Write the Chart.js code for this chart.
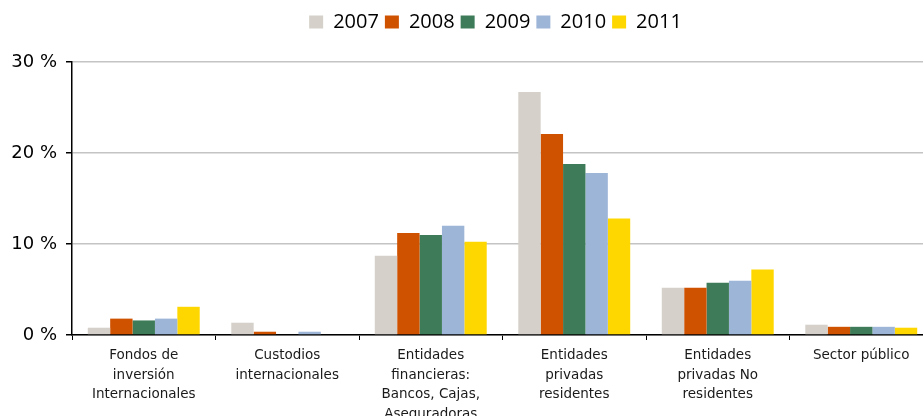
<!DOCTYPE html>
<html>
<head>
<meta charset="utf-8">
<script src="https://cdn.jsdelivr.net/npm/chart.js@4/dist/chart.umd.min.js"></script>
<style>
  html, body { margin: 0; padding: 0; background: #fff; overflow: hidden; }
  #wrap { width: 935px; height: 416px; }
</style>
</head>
<body>
<div id="wrap"><canvas id="c" width="935" height="416"></canvas></div>
<script>
const categories = [
  ["Fondos de", "inversión", "Internacionales"],
  ["Custodios", "internacionales"],
  ["Entidades", "financieras:", "Bancos, Cajas,", "Aseguradoras"],
  ["Entidades", "privadas", "residentes"],
  ["Entidades", "privadas No", "residentes"],
  ["Sector público"]
];
const years = ["2007", "2008", "2009", "2010", "2011"];
const values2007 = [0.8, 1.35, 8.7, 26.7, 5.2, 1.13];
const values2008 = [1.8, 0.36, 11.2, 22.1, 5.2, 0.9];
const values2009 = [1.6, 0, 11.0, 18.8, 5.75, 0.9];
const values2010 = [1.8, 0.36, 12.0, 17.8, 5.97, 0.9];
const values2011 = [3.1, 0, 10.25, 12.8, 7.2, 0.8];
const yTicks = [0, 10, 20, 30];
const colors = ["#D5D1CA", "#CF5200", "#3E7C59", "#9DB5D7", "#FFD700"];

const seriesValues = [values2007, values2008, values2009, values2010, values2011];

const legendTweak = {
  id: 'legendTweak',
  beforeInit(chart) {
    const lg = chart.legend;
    const origFit = lg.fit;
    lg.fit = function () {
      origFit.call(this);
      this.height += 20;
    };
  },
  afterLayout(chart) {
    const lg = chart.legend;
    if (lg) { lg.left += 29; lg.right += 29; }
  }
};

new Chart(document.getElementById('c'), {
  type: 'bar',
  data: {
    labels: categories,
    datasets: years.map((y, i) => ({
      label: y,
      data: seriesValues[i],
      backgroundColor: colors[i],
      borderWidth: 0,
      categoryPercentage: 0.78,
      barPercentage: 1.0
    }))
  },
  options: {
    responsive: false,
    animation: false,
    layout: { padding: { top: 6, right: 2, left: 0, bottom: 0 } },
    plugins: {
      tooltip: { enabled: false },
      legend: {
        position: 'top',
        labels: {
          font: { family: "'Open Sans'", size: 20 },
          color: '#000',
          boxWidth: 14,
          boxHeight: 13,
          padding: 6
        }
      }
    },
    scales: {
      x: {
        grid: {
          offset: true,
          drawOnChartArea: false,
          tickLength: 5,
          tickColor: '#000'
        },
        border: { color: '#000', width: 1.5 },
        ticks: {
          font: { family: "'DejaVu Sans'", size: 13.5, lineHeight: 1.44 },
          color: '#1a1a1a',
          padding: 6,
          maxRotation: 0,
          autoSkip: false
        },
        afterFit(scale) { scale.height = 81; }
      },
      y: {
        min: 0,
        max: 30,
        afterBuildTicks(scale) { scale.ticks = yTicks.map(v => ({ value: v })); },
        grid: {
          color: '#c4c4c4',
          lineWidth: 1.5,
          tickLength: 6,
          tickColor: '#000'
        },
        border: { color: '#000', width: 1.5 },
        ticks: {
          font: { family: "'DejaVu Sans'", size: 18 },
          color: '#000',
          padding: 9,
          callback: v => v + ' %'
        },
        afterFit(scale) { scale.width = 72; }
      }
    }
  },
  plugins: [legendTweak]
});
</script>
</body>
</html>
